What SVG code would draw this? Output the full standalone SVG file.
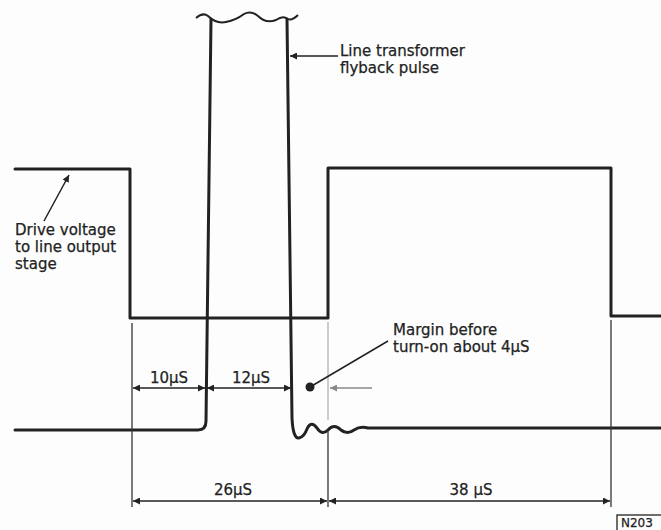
<svg xmlns="http://www.w3.org/2000/svg" width="661" height="530" viewBox="0 0 661 530">
<defs>
<marker id="ah" viewBox="0 0 10 10" refX="10" refY="5" markerWidth="7" markerHeight="7" markerUnits="userSpaceOnUse" orient="auto-start-reverse">
<path d="M0,0 L10,5 L0,10 z" fill="#222"/>
</marker>
<marker id="ahg" viewBox="0 0 10 10" refX="10" refY="5" markerWidth="7" markerHeight="7" markerUnits="userSpaceOnUse" orient="auto-start-reverse">
<path d="M0,0 L10,5 L0,10 z" fill="#888"/>
</marker>
</defs>
<style>
.wave{fill:none;stroke:#222;stroke-width:3;stroke-linejoin:round;stroke-linecap:round}
.ext{fill:none;stroke:#333;stroke-width:1.3}
.dim{fill:none;stroke:#222;stroke-width:1.3;marker-start:url(#ah);marker-end:url(#ah)}
.lead{fill:none;stroke:#222;stroke-width:1.5}
text{font-family:"DejaVu Sans",sans-serif;font-size:15px;fill:#222;stroke:#222;stroke-width:0.25}
.small{font-size:12px}
</style>
<rect width="661" height="530" fill="#fdfdfd"/>
<g id="drive-waveform">
<path class="wave" d="M15,169 L130,169 L130,318 L328,318 L328,168 L611,168 L611,316 L661,316"/>
</g>
<g id="flyback-pulse">
<path class="wave" d="M15,430 L198,430 Q206,430 206,421 L211,19"/>
<path class="wave" d="M287,19 L292,418 Q293,439 299,438 Q304,437 307,429 Q311,420 317,428 Q322,436 328,430 Q334,423 341,430 Q347,435 354,430 Q360,426 368,428 L661,428"/>
<path fill="none" stroke="#222" stroke-width="2" d="M196,18 Q203,12 208,16 Q216,24 226,22 Q236,20 244,14 Q251,10 258,16 Q266,24 276,20 Q282,16 286,18 Q291,22 298,15"/>
</g>
<g id="extension-lines">
<path class="ext" d="M132,323 V507"/>
<path d="M328,322 V420" stroke="#bbb" stroke-width="1.5" fill="none"/>
<path class="ext" d="M328,430 V507"/>
<path class="ext" d="M611,320 V507"/>
</g>
<g id="connectors">
<path class="dim" d="M133,388 H205"/>
<path class="dim" d="M207,388 H291"/>
<path class="dim" d="M133,501 H327"/>
<path class="dim" d="M329,501 H610"/>
<path class="lead" d="M338,56 H290" marker-end="url(#ah)"/>
<path class="lead" d="M44,221 L69,175" marker-end="url(#ah)"/>
<path class="lead" d="M310,387 L388,341"/>
<path d="M372,388 H330" stroke="#888" stroke-width="1.5" fill="none" marker-end="url(#ahg)"/>
<circle cx="310" cy="387" r="4.5" fill="#222"/>
</g>
<g id="label-flyback">
<text x="340" y="56">Line transformer</text>
<text x="340" y="73">flyback pulse</text>
</g>
<g id="label-drive">
<text x="15" y="235">Drive voltage</text>
<text x="15" y="252">to line output</text>
<text x="15" y="269">stage</text>
</g>
<g id="label-margin">
<text x="393" y="335">Margin before</text>
<text x="393" y="352">turn-on about  4µS</text>
</g>
<g id="dim-labels">
<text x="169" y="383" text-anchor="middle">10µS</text>
<text x="251" y="383" text-anchor="middle">12µS</text>
<text x="233" y="495" text-anchor="middle">26µS</text>
<text x="471" y="495" text-anchor="middle">38 µS</text>
</g>
<g id="figure-ref">
<rect x="617" y="515" width="48" height="16" fill="none" stroke="#222" stroke-width="1.3"/>
<text class="small" x="621" y="527">N203</text>
</g>
</svg>
